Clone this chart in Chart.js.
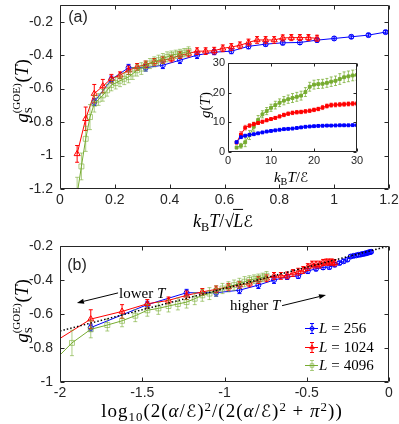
<!DOCTYPE html>
<html><head><meta charset="utf-8">
<script src="https://cdn.jsdelivr.net/npm/chart.js@4.4.1/dist/chart.umd.min.js"></script>
<style>
html,body{margin:0;padding:0;background:#fff;}
#wrap{position:relative;width:399px;height:424px;overflow:hidden;background:#fff;}
canvas{position:absolute;display:block;}
.t{position:absolute;white-space:nowrap;line-height:1;font-family:"Liberation Serif","DejaVu Serif","DejaVu Sans",serif;color:#000;}
.c{transform:translate(-50%,-50%);}
.m{transform:translate(0,-50%);}
.r{transform:translate(-50%,-50%) rotate(-90deg);}
.pl{font-family:"Liberation Sans",Arial,sans-serif;font-size:16px;color:#262626;}
sub,sup{font-size:0.68em;line-height:0;}
sub{vertical-align:-0.3em;} sup{vertical-align:0.5em;}
.ss{display:inline-flex;flex-direction:column;font-size:11px;line-height:1.1;vertical-align:8px;margin:0 1px 0 0;}
.ov{border-top:1px solid #000;padding-top:1px;margin-left:-1px;}
.sc{font-family:"DejaVu Serif","DejaVu Sans",serif;font-style:italic;font-size:0.9em;}
.eq{margin:0 4px;}
</style></head>
<body><div id="wrap">
<canvas id="ca" width="399" height="225" style="left:0;top:0;width:399px;height:225px"></canvas>
<canvas id="cb" width="399" height="194" style="left:0;top:230px;width:399px;height:194px"></canvas>
<canvas id="ci" width="175" height="135" style="left:190px;top:50px;width:175px;height:135px"></canvas>

<div class="t r" style="left:22px;top:91px;font-size:19px"><i>g</i><span class="ss"><span>(GOE)</span><span>S</span></span>(<i>T</i>)</div>
<div class="t r" style="left:22px;top:311px;font-size:19px"><i>g</i><span class="ss"><span>(GOE)</span><span>S</span></span>(<i>T</i>)</div>
<div class="t c" style="left:223px;top:221px;font-size:18px"><i>k</i><sub>B</sub><i>T</i>/√<span class="ov"><i>L</i></span><span class="sc">ℰ</span></div>
<div class="t c" style="left:222px;top:411px;font-size:19px;letter-spacing:1px">log<sub>10</sub>(2(<i>α</i>/<span class="sc">ℰ</span>)<sup>2</sup>/(2(<i>α</i>/<span class="sc">ℰ</span>)<sup>2</sup> + <i>π</i><sup>2</sup>))</div>
<div class="t r" style="left:205px;top:105px;font-size:15px"><i>g</i>(<i>T</i>)</div>
<div class="t c" style="left:291px;top:177px;font-size:15px"><i>k</i><sub>B</sub><i>T</i>/<span class="sc">ℰ</span></div>
<div class="t c pl" style="left:78px;top:17px">(a)</div>
<div class="t c pl" style="left:77px;top:265px">(b)</div>
<div class="t m" style="left:119px;top:293px;font-size:15px">lower <i>T</i></div>
<div class="t m" style="left:230px;top:305px;font-size:15px">higher <i>T</i></div>
<div id="leg"></div>
</div>
<script>
// ---------------- data ----------------
const T = [2,3,4,5,6,7,8,9,10,11,12,13,14,15,16,17,18,19,20,21,22,23,24,25,26,27,28,29,30];
const seriesNames = ['L = 256','L = 1024','L = 4096'];

// panel (a) abscissa: k_B T / (sqrt(L) E)
const xA256  = [0.125,0.1875,0.25,0.3125,0.375,0.4375,0.5,0.5625,0.625,0.6875,0.75,0.8125,0.875,0.9375,1,1.0625,1.125,1.1875,1.25,1.3125,1.375,1.4375,1.5,1.5625,1.625,1.6875,1.75,1.8125,1.875];
const xA1024 = [0.0625,0.09375,0.125,0.15625,0.1875,0.21875,0.25,0.28125,0.3125,0.34375,0.375,0.40625,0.4375,0.46875,0.5,0.53125,0.5625,0.59375,0.625,0.65625,0.6875,0.71875,0.75,0.78125,0.8125,0.84375,0.875,0.90625,0.9375];
const xA4096 = [0.03125,0.046875,0.0625,0.078125,0.09375,0.109375,0.125,0.140625,0.15625,0.171875,0.1875,0.203125,0.21875,0.234375,0.25,0.265625,0.28125,0.296875,0.3125,0.328125,0.34375,0.359375,0.375,0.390625,0.40625,0.421875,0.4375,0.453125,0.46875];

// panel (b) abscissa: log10(2(a/E)^2/(2(a/E)^2+pi^2))
const xB256  = [-1.8129,-1.4690,-1.2304,-1.0508,-0.9091,-0.7941,-0.6990,-0.6192,-0.5515,-0.4936,-0.4437,-0.4005,-0.3629,-0.3300,-0.3010,-0.2755,-0.2529,-0.2328,-0.2148,-0.1988,-0.1844,-0.1714,-0.1597,-0.1491,-0.1395,-0.1307,-0.1227,-0.1154,-0.1087];
const xB1024 = [-2.4099,-2.0599,-1.8129,-1.6228,-1.4690,-1.3404,-1.2304,-1.1349,-1.0508,-0.9760,-0.9091,-0.8488,-0.7941,-0.7444,-0.6990,-0.6573,-0.6192,-0.5840,-0.5515,-0.5214,-0.4936,-0.4677,-0.4437,-0.4213,-0.4005,-0.3811,-0.3629,-0.3459,-0.3300];
const xB4096 = [-3.0107,-2.6591,-2.4099,-2.2171,-2.0599,-1.9273,-1.8129,-1.7124,-1.6228,-1.5422,-1.4690,-1.4020,-1.3404,-1.2834,-1.2304,-1.1810,-1.1349,-1.0915,-1.0508,-1.0123,-0.9760,-0.9417,-0.9091,-0.8782,-0.8488,-0.8208,-0.7941,-0.7687,-0.7444];

// g_S^(GOE)(T)
const g256  = [-0.68,-0.545,-0.475,-0.475,-0.46,-0.43,-0.40,-0.382,-0.376,-0.347,-0.334,-0.326,-0.324,-0.31,-0.30,-0.29,-0.28,-0.262,-0.258,-0.255,-0.252,-0.25,-0.247,-0.245,-0.243,-0.24,-0.238,-0.236,-0.234];
const g1024 = [-0.99,-0.78,-0.63,-0.585,-0.54,-0.52,-0.49,-0.47,-0.455,-0.44,-0.43,-0.42,-0.40,-0.39,-0.376,-0.376,-0.373,-0.359,-0.351,-0.341,-0.324,-0.309,-0.309,-0.309,-0.297,-0.295,-0.295,-0.295,-0.299];
const g4096 = [-1.7,-1.45,-1.23,-1.065,-0.90,-0.77,-0.69,-0.665,-0.64,-0.61,-0.578,-0.567,-0.553,-0.541,-0.53,-0.51,-0.49,-0.48,-0.465,-0.45,-0.44,-0.43,-0.42,-0.41,-0.40,-0.395,-0.39,-0.385,-0.375];
const e256  = [0.02,0.02,0.02,0.02,0.02,0.02,0.02,0.015,0.015,0.015,0.012,0.012,0.012,0.012,0.01,0.01,0.01,0.01,0.01,0.01,0.01,0.01,0.01,0.01,0.01,0.01,0.01,0.01,0.01];
const e1024 = [0.05,0.07,0.055,0.04,0.025,0.02,0.025,0.02,0.02,0.02,0.02,0.02,0.02,0.02,0.02,0.02,0.02,0.02,0.02,0.02,0.02,0.02,0.02,0.02,0.018,0.018,0.018,0.018,0.018];
const e4096 = [0.1,0.1,0.1,0.08,0.075,0.075,0.05,0.035,0.035,0.035,0.035,0.035,0.035,0.035,0.035,0.035,0.035,0.035,0.03,0.03,0.03,0.03,0.03,0.03,0.025,0.025,0.025,0.025,0.025];

// inset g(T)
const gi256  = [3.3,5.0,5.5,5.8,6.0,6.3,6.6,6.9,7.1,7.3,7.5,7.7,7.8,7.9,8.1,8.3,8.5,8.6,8.7,8.8,8.85,8.9,8.9,8.95,9.0,9.0,9.0,9.05,9.05];
const gi1024 = [3.2,5.9,8.2,8.9,9.4,9.8,10.2,10.7,11.1,11.5,12.0,12.5,12.9,13.2,13.4,13.5,13.7,13.9,14.2,14.5,15.0,15.5,15.8,15.9,16.0,16.1,16.2,16.3,16.3];
const gi4096 = [1.5,2.1,3.3,5.7,8.5,10.8,12.7,13.8,14.9,15.8,16.6,17.3,17.8,18.2,18.6,19.0,20.2,22.0,22.7,22.9,23.0,23.3,23.7,24.0,24.6,25.2,25.5,25.8,26.0];
const ei256  = [0.2,0.2,0.2,0.2,0.2,0.2,0.2,0.2,0.2,0.2,0.2,0.2,0.2,0.2,0.2,0.2,0.2,0.2,0.2,0.2,0.2,0.2,0.2,0.2,0.2,0.2,0.2,0.2,0.2];
const ei1024 = [0.5,1.0,0.8,0.6,0.6,0.5,0.5,0.5,0.5,0.5,0.5,0.6,0.6,0.6,0.6,0.6,0.6,0.6,0.6,0.6,0.7,0.7,0.7,0.7,0.7,0.7,0.7,0.7,0.7];
const ei4096 = [0.4,0.8,1.5,1.5,1.5,1.5,1.2,1.2,1.2,1.3,1.3,1.4,1.4,1.5,1.5,1.5,1.5,1.5,1.5,1.5,1.5,1.5,1.6,1.6,1.8,1.8,1.8,1.8,1.8];

// reference line in (b)
const fitX = [-2, 0];
const fitY = [-0.70, -0.20];

// annotation arrows in (b) (data coordinates)
const arrowFromX = [-1.647, -0.650], arrowFromY = [-0.476, -0.551];
const arrowToX   = [-1.897, -0.383], arrowToY   = [-0.535, -0.488];

// ticks
const xTicksA = [0,0.2,0.4,0.6,0.8,1,1.2], xLabelsA = ['0','0.2','0.4','0.6','0.8','1','1.2'];
const yTicksA = [-1.2,-1,-0.8,-0.6,-0.4,-0.2], yLabelsA = ['-1.2','-1','-0.8','-0.6','-0.4','-0.2'];
const xTicksB = [-2,-1.5,-1,-0.5,0], xLabelsB = ['-2','-1.5','-1','-0.5','0'];
const yTicksB = [-1,-0.8,-0.6,-0.4,-0.2], yLabelsB = ['-1','-0.8','-0.6','-0.4','-0.2'];
const xTicksI = [0,10,20,30], xLabelsI = ['0','10','20','30'];
const yTicksI = [0,10,20,30], yLabelsI = ['0','10','20','30'];

// ---------------- styling ----------------
const BLUE = '#0000ff', RED = '#ff0000', GREEN = '#77ac30';
const AX = '#262626';
const SANS = '"Liberation Sans", Arial, sans-serif';
const pts = (xs, ys) => xs.map((x, i) => ({x: x, y: ys[i]}));

const framePlugin = {
  id: 'frame',
  afterDraw(chart, args, opts) {
    const {ctx, chartArea: a, scales} = chart;
    const L = opts.tick || 4;
    ctx.save();
    ctx.strokeStyle = AX; ctx.lineWidth = 1;
    const l = Math.round(a.left) + 0.5, r = Math.round(a.right) - 0.5, t = Math.round(a.top) + 0.5, b = Math.round(a.bottom) - 0.5;
    ctx.beginPath();
    ctx.rect(l, t, r - l, b - t);
    scales.x.ticks.forEach(tk => { const x = Math.round(scales.x.getPixelForValue(tk.value)) + 0.5; ctx.moveTo(x, b); ctx.lineTo(x, b - L); ctx.moveTo(x, t); ctx.lineTo(x, t + L); });
    scales.y.ticks.forEach(tk => { const y = Math.round(scales.y.getPixelForValue(tk.value)) + 0.5; ctx.moveTo(l, y); ctx.lineTo(l + L, y); ctx.moveTo(r, y); ctx.lineTo(r - L, y); });
    ctx.stroke();
    ctx.restore();
  }
};
const bgPlugin = {
  id: 'bg',
  beforeDraw(chart, args, opts) {
    if (!opts.color) return;
    const {ctx, chartArea: a} = chart;
    ctx.save(); ctx.fillStyle = opts.color; ctx.fillRect(a.left, a.top, a.right - a.left, a.bottom - a.top); ctx.restore();
  }
};
const errPlugin = {
  id: 'err',
  afterDatasetDraw(chart, args) {
    const ds = chart.data.datasets[args.index];
    if (!ds.err) return;
    const {ctx, chartArea: a} = chart; const ys = chart.scales.y;
    const cap = ds.cap || 2;
    ctx.save();
    ctx.beginPath(); ctx.rect(a.left, a.top, a.right - a.left, a.bottom - a.top); ctx.clip();
    ctx.strokeStyle = ds.errColor || ds.borderColor; ctx.lineWidth = 1;
    ctx.beginPath();
    args.meta.data.forEach((pt, i) => {
      const v = ds.data[i].y, e = ds.err[i];
      const y1 = ys.getPixelForValue(v - e), y2 = ys.getPixelForValue(v + e), x = pt.x;
      ctx.moveTo(x, y1); ctx.lineTo(x, y2);
      ctx.moveTo(x - cap, y1); ctx.lineTo(x + cap, y1);
      ctx.moveTo(x - cap, y2); ctx.lineTo(x + cap, y2);
    });
    ctx.stroke();
    ctx.restore();
  }
};

function axis(min, max, ticks, labels, isX, size, fontSize, pad) {
  return {
    type: 'linear', min: min, max: max,
    afterBuildTicks: s => { s.ticks = ticks.map(v => ({value: v})); },
    afterFit: s => { if (isX) s.height = size; else s.width = size; s.paddingTop = 0; s.paddingBottom = 0; s.paddingLeft = 0; s.paddingRight = 0; },
    grid: {display: false, drawTicks: false},
    border: {display: false},
    ticks: {
      autoSkip: false, maxRotation: 0, minRotation: 0, padding: pad, color: AX,
      font: {family: SANS, size: fontSize},
      callback: v => { const k = ticks.findIndex(t => Math.abs(t - v) < 1e-9); return k >= 0 ? labels[k] : ''; }
    }
  };
}
function series(xs, ys, es, color, style, radius, errColor, ptColor) {
  return {
    data: pts(xs, ys), err: es, errColor: errColor || color, cap: 2,
    borderColor: color, borderWidth: 1, backgroundColor: 'rgba(0,0,0,0)',
    pointStyle: style, pointRadius: radius, pointBorderColor: ptColor || color, pointBorderWidth: 1,
    pointBackgroundColor: 'rgba(0,0,0,0)', tension: 0, fill: false
  };
}
const common = {
  responsive: false, animation: false, events: [],
  plugins: {legend: {display: false}, tooltip: {enabled: false}, frame: {tick: 4}},
};
const GERR = 'rgba(119,172,48,0.6)';

// ---------------- panel (a) ----------------
new Chart(document.getElementById('ca'), {
  type: 'line',
  data: {datasets: [
    series(xA4096, g4096, e4096, GREEN, 'rect', 3.5, GERR, GERR),
    series(xA1024, g1024, e1024, RED, 'triangle', 3.5),
    series(xA256, g256, e256, BLUE, 'circle', 2.5)
  ]},
  options: Object.assign({}, common, {
    layout: {padding: {left: 0, right: 10, top: 0, bottom: 0}},
    scales: {
      x: axis(0, 1.2, xTicksA, xLabelsA, true, 36, 14, 3),
      y: axis(-1.2, -0.1, yTicksA, yLabelsA, false, 60, 14, 7)
    }
  }),
  plugins: [framePlugin, errPlugin]
});

// ---------------- panel (b) ----------------
const annotPlugin = {
  id: 'annot',
  afterDraw(chart) {
    const {ctx, scales: {x, y}} = chart;
    ctx.save();
    ctx.strokeStyle = '#000'; ctx.fillStyle = '#000'; ctx.lineWidth = 1;
    for (let i = 0; i < arrowFromX.length; i++) {
      const x0 = x.getPixelForValue(arrowFromX[i]), y0 = y.getPixelForValue(arrowFromY[i]);
      const x1 = x.getPixelForValue(arrowToX[i]), y1 = y.getPixelForValue(arrowToY[i]);
      const ang = Math.atan2(y1 - y0, x1 - x0), hl = 7, hw = 2.5;
      const bx = x1 - hl * Math.cos(ang), by = y1 - hl * Math.sin(ang);
      ctx.beginPath(); ctx.moveTo(x0, y0); ctx.lineTo(bx, by); ctx.stroke();
      ctx.beginPath(); ctx.moveTo(x1, y1);
      ctx.lineTo(bx + hw * Math.sin(ang), by - hw * Math.cos(ang));
      ctx.lineTo(bx - hw * Math.sin(ang), by + hw * Math.cos(ang));
      ctx.closePath(); ctx.fill();
    }
    // legend samples
    const rows = [98, 117, 135];
    const cols = [BLUE, RED, GREEN];
    const shapes = ['circle', 'triangle', 'rect'];
    const errc = [BLUE, RED, GERR];
    for (let i = 0; i < 3; i++) {
      const yy = rows[i] + 0.5, xc = 312;
      ctx.strokeStyle = cols[i]; ctx.lineWidth = 1;
      ctx.beginPath(); ctx.moveTo(305, yy); ctx.lineTo(318, yy); ctx.stroke();
      ctx.strokeStyle = errc[i];
      ctx.beginPath(); ctx.moveTo(xc, yy - 5); ctx.lineTo(xc, yy + 5);
      ctx.moveTo(xc - 2, yy - 5); ctx.lineTo(xc + 2, yy - 5); ctx.moveTo(xc - 2, yy + 5); ctx.lineTo(xc + 2, yy + 5); ctx.stroke();
      ctx.fillStyle = 'rgba(0,0,0,0)';
      Chart.helpers.drawPoint(ctx, {pointStyle: shapes[i], radius: i === 0 ? 2 : 2.5, borderWidth: 1}, xc, yy);
    }
    ctx.restore();
  }
};
new Chart(document.getElementById('cb'), {
  type: 'line',
  data: {datasets: [
    {data: pts(fitX, fitY), borderColor: '#000', borderWidth: 1.5, borderDash: [1.5, 2], pointRadius: 0, fill: false},
    series(xB4096, g4096, e4096, GREEN, 'rect', 3.5, GERR, GERR),
    series(xB1024, g1024, e1024, RED, 'triangle', 3.5),
    series(xB256, g256, e256, BLUE, 'circle', 2.5)
  ]},
  options: Object.assign({}, common, {
    layout: {padding: {left: 0, right: 10, top: 16, bottom: 0}},
    scales: {
      x: axis(-2, 0, xTicksB, xLabelsB, true, 42, 14, 3),
      y: axis(-1, -0.2, yTicksB, yLabelsB, false, 60, 14, 7)
    }
  }),
  plugins: [framePlugin, errPlugin, annotPlugin]
});

// ---------------- inset ----------------
function iseries(ys, es, color, errColor) {
  const s = series(T, ys, es, color, 'rect', 2, errColor, color);
  s.pointBackgroundColor = color; s.cap = 1.5;
  return s;
}
new Chart(document.getElementById('ci'), {
  type: 'line',
  data: {datasets: [
    iseries(gi256, ei256, BLUE, BLUE),
    iseries(gi1024, ei1024, RED, 'rgba(255,0,0,0.55)'),
    iseries(gi4096, ei4096, GREEN, 'rgba(119,172,48,0.75)')
  ]},
  options: Object.assign({}, common, {
    layout: {padding: {left: 0, right: 8, top: 13, bottom: 0}},
    plugins: {legend: {display: false}, tooltip: {enabled: false}, frame: {tick: 3}, bg: {color: '#fff'}},
    scales: {
      x: axis(0, 30, xTicksI, xLabelsI, true, 33, 11, 2),
      y: axis(0, 30, yTicksI, yLabelsI, false, 38, 11, 3)
    }
  }),
  plugins: [bgPlugin, framePlugin, errPlugin]
});

// legend text
const legTop = [328, 347, 365];
const leg = document.getElementById('leg');
seriesNames.forEach((n, i) => {
  const d = document.createElement('div');
  d.className = 't m';
  d.style.left = '319px'; d.style.top = legTop[i] + 'px'; d.style.fontSize = '15px';
  const parts = n.split(' = ');
  d.innerHTML = '<i>' + parts[0] + '</i><span class="eq">=</span>' + parts[1];
  leg.appendChild(d);
});
</script>
</body></html>
